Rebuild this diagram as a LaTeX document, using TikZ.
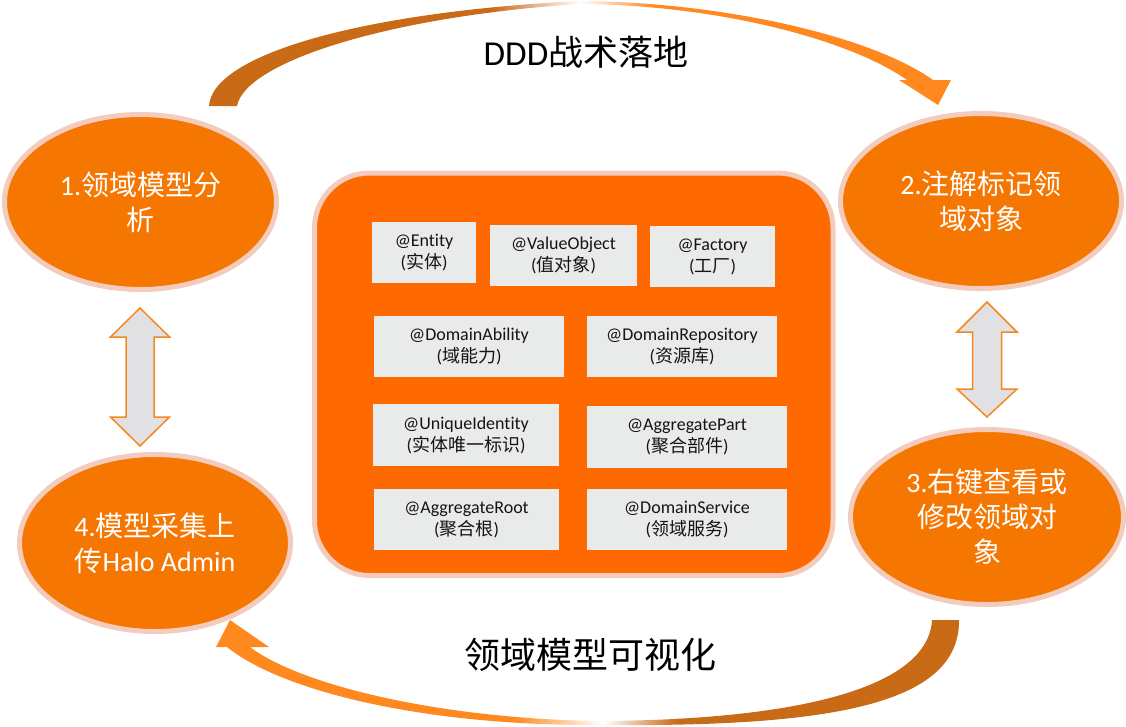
\documentclass[tikz,border=0pt]{standalone}
\usepackage{fontspec}
\setmainfont{Carlito}[Ligatures=NoCommon]
\newfontfamily\cjk{Noto Sans CJK SC}
\usetikzlibrary{shapes.geometric}
\definecolor{arcdark}{RGB}{201,106,22}
\definecolor{arclight}{RGB}{255,137,30}
\definecolor{ellfill}{RGB}{245,118,0}
\definecolor{palerim}{RGB}{244,204,190}
\definecolor{panelfill}{RGB}{255,106,0}
\definecolor{boxfill}{RGB}{233,234,234}
\definecolor{arrowgray}{RGB}{225,224,227}
\definecolor{arroworange}{RGB}{245,137,31}
\pgfdeclarehorizontalshading{toparcshade}{100bp}{color(0bp)=(arcdark); color(25bp)=(arcdark); color(44bp)=(arcdark); color(50bp)=(white); color(55bp)=(arclight); color(75bp)=(arclight); color(100bp)=(arclight)}
\pgfdeclarehorizontalshading{botarcshade}{100bp}{color(0bp)=(arclight); color(25bp)=(arclight); color(45bp)=(arclight); color(51bp)=(white); color(56bp)=(arcdark); color(75bp)=(arcdark); color(100bp)=(arcdark)}
\newcommand\zh[1]{{\cjk #1}}
\begin{document}
\begin{tikzpicture}[x=1pt,y=-1pt,
  phase/.style={ellipse, draw=palerim, line width=5pt, fill=ellfill, text=white,
    inner sep=0pt, align=center, font=\fontsize{28}{35}\selectfont},
  panelbox/.style={rectangle, rounded corners=55pt, draw=palerim, line width=5pt, fill=panelfill, inner sep=0pt},
  tag/.style={rectangle, fill=boxfill, inner sep=0pt, align=center, text=black!92,
    font=\fontsize{18}{22}\selectfont},
  dblarrow/.style={draw=arroworange, fill=arrowgray, line width=1.5pt, line join=miter},
  title/.style={text=black, inner sep=0pt}]
\useasboundingbox (0,0) rectangle (1126,726);

% curved arrows
\shade[shading=toparcshade] (209,106) .. controls (212,55) and (360,12) .. (580,1)
  .. controls (720,2) and (870,35) .. (933,80) -- (951,80) -- (938,105) -- (899,80) -- (907,80)
  .. controls (850,40) and (720,5) .. (580,4) .. controls (390,16) and (245,62) .. (237,106) -- cycle;
\shade[shading=botarcshade] (959,620) .. controls (960,705) and (830,727) .. (600,725)
  .. controls (420,726) and (280,690) .. (227,647) -- (216,647) -- (230,620) -- (269,647) -- (250,647)
  .. controls (300,685) and (440,719) .. (600,721) .. controls (790,720) and (928,690) .. (932,620) -- cycle;

\node[title, font=\fontsize{35}{40}\selectfont] (t1) at (586,52) {DDD\zh{战术落地}};
\node[title, font=\fontsize{36}{40}\selectfont] (t2) at (590,655) {\zh{领域模型可视化}};

% phases
\node[phase, minimum width=272pt, minimum height=175pt] (p1) at (140.5,202) {1.\zh{领域模型分}\\\zh{析}};
\node[phase, minimum width=281pt, minimum height=175pt] (p2) at (981,201) {2.\zh{注解标记领}\\\zh{域对象}};
\node[phase, minimum width=273pt, minimum height=175pt] (p3) at (987,517) {3.\zh{右键查看或}\\\zh{修改领域对}\\\zh{象}};
\node[phase, minimum width=271pt, minimum height=177pt] (p4) at (155,543) {4.\zh{模型采集上}\\\zh{传}Halo Admin};

% double arrows
\draw[dblarrow] (140,308) -- (169.5,337) -- (154,337) -- (154,417) -- (169.5,417) -- (140,446)
  -- (110.5,417) -- (126,417) -- (126,337) -- (110.5,337) -- cycle;
\draw[dblarrow] (987,302) -- (1017,332) -- (1001.5,332) -- (1001.5,389) -- (1017,389) -- (987,417)
  -- (957,389) -- (972.5,389) -- (972.5,332) -- (957,332) -- cycle;

% central panel
\node[panelbox, minimum width=518.5pt, minimum height=402.5pt] (panel) at (573.75,374.25) {};

\node[tag, minimum width=104pt, minimum height=61pt] (entity) at (424,252.5) {@Entity\\(\zh{实体})};
\node[tag, minimum width=147pt, minimum height=61pt] (valueobj) at (563.5,255.5) {@ValueObject\\(\zh{值对象})};
\node[tag, minimum width=125pt, minimum height=61pt] (factory) at (712.5,256.5) {@Factory\\(\zh{工厂})};
\node[tag, minimum width=190pt, minimum height=61pt] (ability) at (469,346.5) {@DomainAbility\\(\zh{域能力})};
\node[tag, minimum width=190pt, minimum height=61pt] (repo) at (682,346.5) {@DomainRepository\\(\zh{资源库})};
\node[tag, minimum width=186pt, minimum height=62pt] (unique) at (466,435) {@UniqueIdentity\\(\zh{实体唯一标识})};
\node[tag, minimum width=200pt, minimum height=62pt] (aggpart) at (687,437) {@AggregatePart\\(\zh{聚合部件})};
\node[tag, minimum width=185pt, minimum height=61pt] (aggroot) at (466.5,519.5) {@AggregateRoot\\(\zh{聚合根})};
\node[tag, minimum width=200pt, minimum height=61pt] (service) at (687,519.5) {@DomainService\\(\zh{领域服务})};
\end{tikzpicture}
\end{document}
